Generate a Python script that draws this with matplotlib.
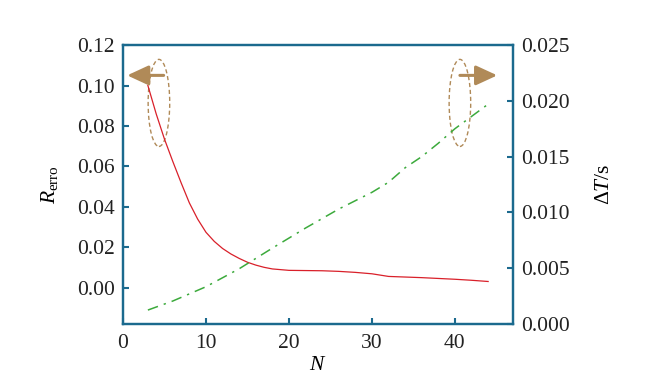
import numpy as np
import matplotlib
matplotlib.use("Agg")
import matplotlib.pyplot as plt
from matplotlib.patches import Ellipse

plt.rcParams['font.family'] = 'Liberation Serif'
plt.rcParams['mathtext.fontset'] = 'custom'
plt.rcParams['mathtext.rm'] = 'Liberation Serif'
plt.rcParams['mathtext.it'] = 'Liberation Serif:italic'

# --- data ---
n_err = [3, 4, 5, 6, 7, 8, 9, 10, 11, 12, 13, 14, 15, 16, 17, 18, 20, 22, 24, 26,
         28, 30, 32, 34, 36, 38, 40, 42, 44]
r_err = [0.100, 0.086, 0.0735, 0.0625, 0.052, 0.042, 0.034, 0.0275, 0.023,
         0.0195, 0.0168, 0.0146, 0.0127, 0.0113, 0.0102, 0.0094, 0.0087, 0.0086,
         0.0085, 0.0082, 0.0077, 0.0070, 0.0057, 0.0054, 0.0051, 0.0047, 0.0043,
         0.0038, 0.0032]

n_dt = [3, 6, 10, 14, 18, 22, 26, 30, 32, 34, 36, 38, 40, 42, 44]
dt = [0.00125, 0.00206, 0.00334, 0.00495, 0.0068, 0.0086, 0.0103, 0.0118,
      0.0127, 0.0140, 0.0150, 0.0162, 0.0175, 0.0186, 0.0197]

x_ticks = [0, 10, 20, 30, 40]
left_ticks = [0.00, 0.02, 0.04, 0.06, 0.08, 0.10, 0.12]
right_ticks = [0.000, 0.005, 0.010, 0.015, 0.020, 0.025]

spine_c = '#1b6a8e'
brown = '#b08a58'

fig = plt.figure(figsize=(6.48, 3.86), dpi=100)
ax = fig.add_axes([0.1898, 0.1606, 0.6019, 0.7228])
ax2 = ax.twinx()

ax.plot(n_err, r_err, color='#d9202a', lw=0.9)
ax2.plot(n_dt, dt, color='#3caa3c', lw=1.1, dashes=(7, 4, 1.5, 4))

ax.set_xlim(0, 47)
ax.set_ylim(-0.0178, 0.12)
ax2.set_ylim(0, 0.025)

ax.set_xticks(x_ticks)
ax.set_yticks(left_ticks)
ax.set_yticklabels([f'{v:.2f}' for v in left_ticks])
ax2.set_yticks(right_ticks)
ax2.set_yticklabels([f'{v:.3f}' for v in right_ticks])

for a in (ax, ax2):
    for s in a.spines.values():
        s.set_color(spine_c)
        s.set_linewidth(1.6)
    a.tick_params(direction='in', length=4, width=1.5, color=spine_c,
                  labelsize=15.5, labelcolor='#222222')
ax.tick_params(axis='x', pad=7)
ax.tick_params(axis='y', pad=6)
ax2.tick_params(axis='y', pad=6)

ax.set_xlabel('$N$', fontsize=15.5, labelpad=2)
ax.set_ylabel(r'$R_{\mathrm{erro}}$', fontsize=15.5, labelpad=12)
ax2.set_ylabel(r'$\Delta T/\mathrm{s}$', fontsize=15.5, labelpad=18)

# markers pointing to the matching axis
ax.add_patch(Ellipse((4.33, 0.0914), 2.6, 0.043, fill=False, ec=brown,
                     ls=(0, (3, 2)), lw=1.0))
ax.add_patch(Ellipse((40.6, 0.0914), 2.6, 0.043, fill=False, ec=brown,
                     ls=(0, (3, 2)), lw=1.0))
arrow = dict(arrowstyle='-|>,head_length=1.3,head_width=0.6',
             color=brown, lw=2.2, shrinkA=0, shrinkB=0)
ax.annotate('', xy=(0.5, 0.105), xytext=(4.9, 0.105), arrowprops=arrow)
ax.annotate('', xy=(45.1, 0.105), xytext=(40.6, 0.105), arrowprops=arrow,
            annotation_clip=False)

fig.savefig('out.png', dpi=100)
